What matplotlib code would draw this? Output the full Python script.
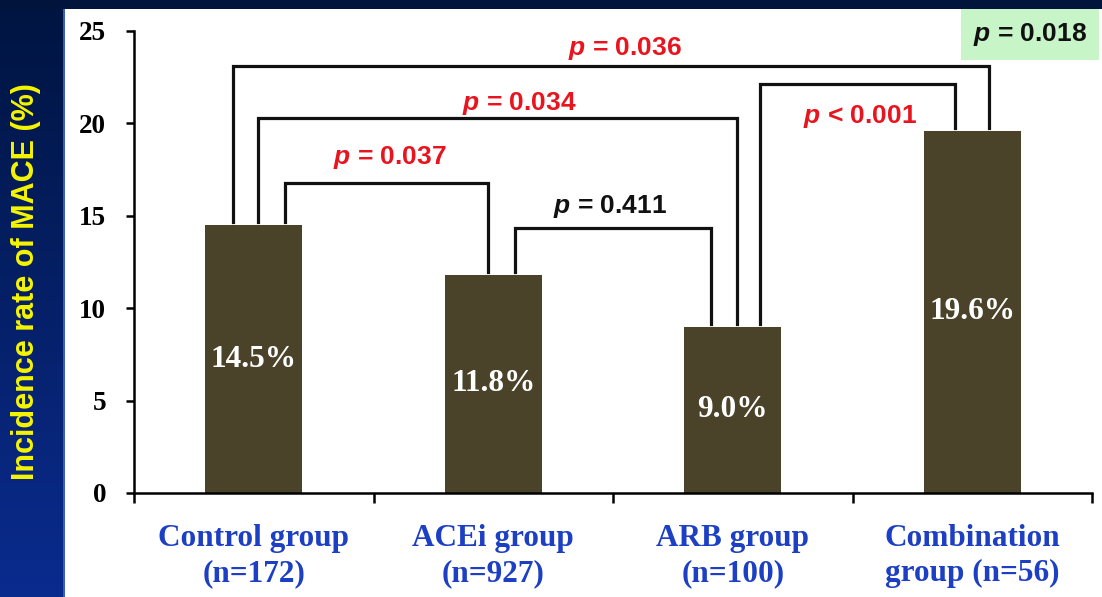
import numpy as np
import matplotlib.pyplot as plt
from matplotlib.patches import Rectangle

plt.rcParams['mathtext.fontset'] = 'custom'
plt.rcParams['mathtext.it'] = 'Liberation Sans:italic:bold'
plt.rcParams['mathtext.rm'] = 'Liberation Sans:bold'

# incidence of MACE per treatment group
groups = ['Control group\n(n=172)', 'ACEi group\n(n=927)', 'ARB group\n(n=100)', 'Combination\ngroup (n=56)']
mace = [14.5, 11.8, 9.0, 19.6]

# pairwise comparisons
pairs = [(0, 1), (1, 2), (0, 2), (2, 3), (0, 3)]
p_text = ['= 0.037', '= 0.411', '= 0.034', '< 0.001', '= 0.036']
significant = [True, False, True, True, True]
overall_p = '= 0.018'

W, H = 1102, 597
fig = plt.figure(figsize=(W / 100, H / 100), dpi=100)
fig.patch.set_facecolor('white')

# slide background: navy band on top, blue gradient strip on the left
strip = fig.add_axes([0, 0, 63 / W, 1])
grad = np.linspace(0, 1, 256).reshape(-1, 1)
c_top = np.array([0.0, 0.08, 0.25])
c_bot = np.array([0.04, 0.17, 0.56])
img = c_top + (c_bot - c_top) * grad[:, :, None]
strip.imshow(img, aspect='auto', extent=[0, 1, 0, 1], origin='upper')
strip.axis('off')
fig.patches.append(Rectangle((0, 1 - 9 / H), 1, 9 / H, transform=fig.transFigure,
                             facecolor='#01143c', edgecolor='none', zorder=5))
fig.patches.append(Rectangle((63 / W, 0), 1.5 / W, 1 - 9 / H, transform=fig.transFigure,
                             facecolor='#3a5cc0', edgecolor='none', zorder=5))

ax = fig.add_axes([134 / W, 1 - 493 / H, 958 / W, 462 / H])
x = np.arange(len(mace))
ax.bar(x, mace, width=0.405, color='#4a4329', zorder=2)

for xi, v in zip(x, mace):
    ax.text(xi, v / 2, f'{v:.1f}%', ha='center', va='center', color='white',
            fontsize=22.5, fontweight='bold', family='Liberation Serif')

# brackets
leg_off = [(0.130, -0.022), (0.091, -0.091), (0.018, 0.017), (0.114, -0.072), (-0.087, 0.07)]
top = [16.8, 14.35, 20.3, 22.15, 23.1]
lab_xy = [(0.569, 18.15), (1.487, 15.48), (1.107, 21.1), (2.531, 20.35), (1.55, 24.05)]
for (i, j), (dl, dr), t, p, ok, (lx, ly) in zip(pairs, leg_off, top, p_text, significant, lab_xy):
    xl, xr = i + dl, j + dr
    ax.plot([xl, xl, xr, xr], [mace[i] + 0.15, t, t, mace[j] + 0.15],
            color='#111111', lw=2.3, solid_joinstyle='miter', zorder=3, clip_on=False)
    ax.text(lx, ly, r'$p$ ' + p, ha='center', va='center', fontsize=19,
            color='#e8141e' if ok else '#111111', fontweight='bold', family='Liberation Sans')

ax.text(3.241, 24.8, r'$p$ ' + overall_p, ha='center', va='center', fontsize=19,
        color='#111111', fontweight='bold', family='Liberation Sans', clip_on=False,
        bbox=dict(boxstyle='square,pad=0.45', facecolor='#c8f5c8', edgecolor='none'))

ax.set_xlim(-0.5, 3.5)
ax.set_ylim(0, 25)
ax.set_yticks(range(0, 26, 5))
ax.set_xticks(x, groups)
ax.set_xticks(np.arange(-0.5, 4, 1), minor=True)
ax.tick_params(axis='x', which='major', length=0, pad=22)
ax.tick_params(axis='x', which='minor', length=7, width=1.8, direction='out')
ax.tick_params(axis='y', length=6, width=1.8, direction='out', pad=14)
for lab in ax.get_xticklabels():
    lab.set_family('Liberation Serif')
    lab.set_fontweight('bold')
    lab.set_fontsize(22.5)
    lab.set_color('#1d3fc4')
    lab.set_linespacing(1.3)
for lab in ax.get_yticklabels():
    lab.set_family('Liberation Serif')
    lab.set_fontweight('bold')
    lab.set_fontsize(19.5)
for s in ['top', 'right']:
    ax.spines[s].set_visible(False)
for s in ['left', 'bottom']:
    ax.spines[s].set_linewidth(1.8)
ax.set_facecolor('none')

fig.text(26 / W, 1 - 282 / H, 'Incidence rate of MACE (%)', rotation=90, ha='center', va='center',
         color='#f5f500', fontsize=22, fontweight='bold', family='Liberation Sans')

fig.savefig('out.png', dpi=100)
